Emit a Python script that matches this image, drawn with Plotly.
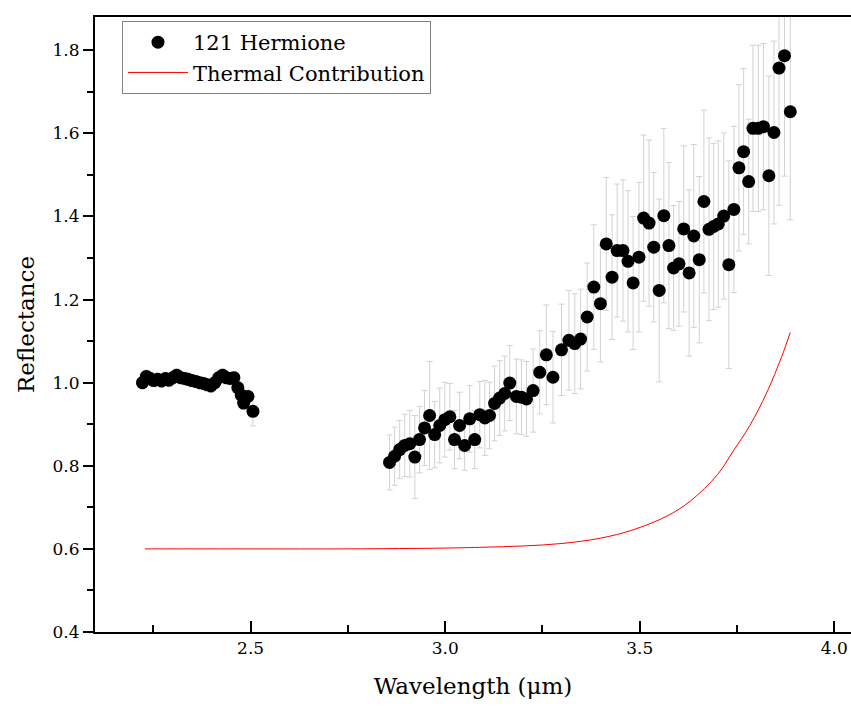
import plotly.graph_objects as go

# ---- data ----
left_x = [2.222, 2.232, 2.242, 2.251, 2.261, 2.271, 2.281, 2.290, 2.300, 2.310,
          2.320, 2.330, 2.339, 2.349, 2.359, 2.369, 2.379, 2.388, 2.398, 2.408,
          2.418, 2.428, 2.437, 2.447, 2.457, 2.467, 2.476, 2.482, 2.493, 2.506]
left_y = [1.000, 1.015, 1.010, 1.005, 1.008, 1.004, 1.010, 1.006, 1.012, 1.018,
          1.012, 1.010, 1.008, 1.005, 1.003, 1.000, 0.998, 0.995, 0.992, 1.000,
          1.012, 1.018, 1.012, 1.010, 1.012, 0.988, 0.970, 0.951, 0.967, 0.931]
left_err = [0.015] * 29 + [0.035]

right_x = [2.857, 2.870, 2.883, 2.896, 2.909, 2.922, 2.934, 2.947, 2.960, 2.973,
           2.986, 2.999, 3.012, 3.024, 3.037, 3.050, 3.063, 3.076, 3.089, 3.102,
           3.114, 3.127, 3.140, 3.153, 3.166, 3.183, 3.196, 3.209, 3.226, 3.243,
           3.260, 3.277, 3.299, 3.318, 3.333, 3.348, 3.365, 3.382, 3.399, 3.414,
           3.429, 3.442, 3.457, 3.470, 3.483, 3.498, 3.510, 3.524, 3.536, 3.550,
           3.562, 3.575, 3.587, 3.601, 3.613, 3.627, 3.639, 3.653, 3.665, 3.678,
           3.690, 3.702, 3.716, 3.729, 3.742, 3.755, 3.767, 3.780, 3.791, 3.805,
           3.818, 3.832, 3.845, 3.858, 3.872, 3.887]
right_y = [0.808, 0.823, 0.839, 0.849, 0.853, 0.821, 0.863, 0.891, 0.921, 0.875,
           0.897, 0.911, 0.918, 0.863, 0.897, 0.849, 0.913, 0.863, 0.923, 0.915,
           0.921, 0.950, 0.963, 0.974, 0.999, 0.967, 0.965, 0.961, 0.981, 1.025,
           1.067, 1.013, 1.079, 1.102, 1.094, 1.105, 1.158, 1.230, 1.190, 1.334,
           1.254, 1.318, 1.318, 1.292, 1.240, 1.302, 1.396, 1.384, 1.326, 1.222,
           1.402, 1.330, 1.276, 1.286, 1.370, 1.264, 1.353, 1.296, 1.436, 1.369,
           1.376, 1.382, 1.401, 1.284, 1.417, 1.517, 1.556, 1.484, 1.612, 1.612,
           1.616, 1.498, 1.602, 1.757, 1.787, 1.652]
right_err = [0.066, 0.070, 0.070, 0.075, 0.080, 0.100, 0.080, 0.090, 0.130, 0.080,
             0.090, 0.090, 0.080, 0.070, 0.080, 0.060, 0.080, 0.070, 0.080, 0.090,
             0.080, 0.090, 0.090, 0.090, 0.090, 0.090, 0.090, 0.090, 0.100, 0.100,
             0.120, 0.110, 0.110, 0.120, 0.120, 0.120, 0.130, 0.150, 0.140, 0.160,
             0.150, 0.160, 0.170, 0.170, 0.160, 0.180, 0.200, 0.200, 0.180, 0.220,
             0.210, 0.200, 0.150, 0.150, 0.200, 0.200, 0.220, 0.200, 0.220, 0.220,
             0.200, 0.200, 0.200, 0.250, 0.200, 0.200, 0.200, 0.150, 0.200, 0.200,
             0.200, 0.240, 0.220, 0.330, 0.290, 0.260]

thermal_x = [2.228, 2.5, 2.75, 3.0, 3.1, 3.2, 3.3, 3.4, 3.48, 3.57, 3.63, 3.70,
             3.74, 3.783, 3.826, 3.865, 3.887]
thermal_y = [0.600, 0.600, 0.600, 0.602, 0.604, 0.607, 0.613, 0.626, 0.645, 0.679,
             0.715, 0.779, 0.835, 0.897, 0.975, 1.063, 1.121]

hx = left_x + right_x
hy = left_y + right_y
herr = left_err + right_err

FONT = "DejaVu Serif"

fig = go.Figure()
fig.add_trace(go.Scatter(
    x=hx, y=hy, mode="markers", name="121 Hermione",
    marker=dict(color="black", size=13),
    error_y=dict(type="data", array=herr, visible=True,
                 color="rgb(210,210,210)", thickness=1, width=3),
))
fig.add_trace(go.Scatter(
    x=thermal_x, y=thermal_y, mode="lines", name="Thermal Contribution",
    line=dict(color="red", width=1, shape="spline"),
))

fig.update_layout(
    width=851, height=717,
    margin=dict(l=95, r=0, t=17, b=85),
    paper_bgcolor="white", plot_bgcolor="white",
    font=dict(family=FONT, color="black", size=18),
    showlegend=True,
    legend=dict(x=0.0357, y=0.9935, xanchor="left", yanchor="top",
                bgcolor="white", bordercolor="#808080", borderwidth=1,
                font=dict(family=FONT, size=21), itemwidth=60,
                tracegroupgap=0),
    xaxis=dict(range=[2.1, 4.043], tick0=2.5, dtick=0.5, tickformat=".1f",
               ticks="inside", ticklen=11, tickwidth=1.5, tickcolor="black",
               minor=dict(dtick=0.25, tick0=2.25, ticks="inside", ticklen=7,
                          tickwidth=1.5, tickcolor="black"),
               showline=True, linecolor="black", linewidth=2, mirror=True,
               showgrid=False, zeroline=False,
               title=dict(text="Wavelength (μm)", font=dict(family=FONT, size=23),
                          standoff=20),
               tickfont=dict(family=FONT, size=17)),
    yaxis=dict(range=[0.4, 1.88], tick0=0.4, dtick=0.2, tickformat=".1f",
               ticks="outside", ticklen=10, tickwidth=1.5, tickcolor="black",
               minor=dict(dtick=0.1, ticks="outside", ticklen=6, tickwidth=1.5,
                          tickcolor="black"),
               showline=True, linecolor="black", linewidth=2, mirror=False,
               showgrid=False, zeroline=False,
               title=dict(text="Reflectance", font=dict(family=FONT, size=23),
                          standoff=12),
               tickfont=dict(family=FONT, size=17)),
)

fig.write_html("out.html")
